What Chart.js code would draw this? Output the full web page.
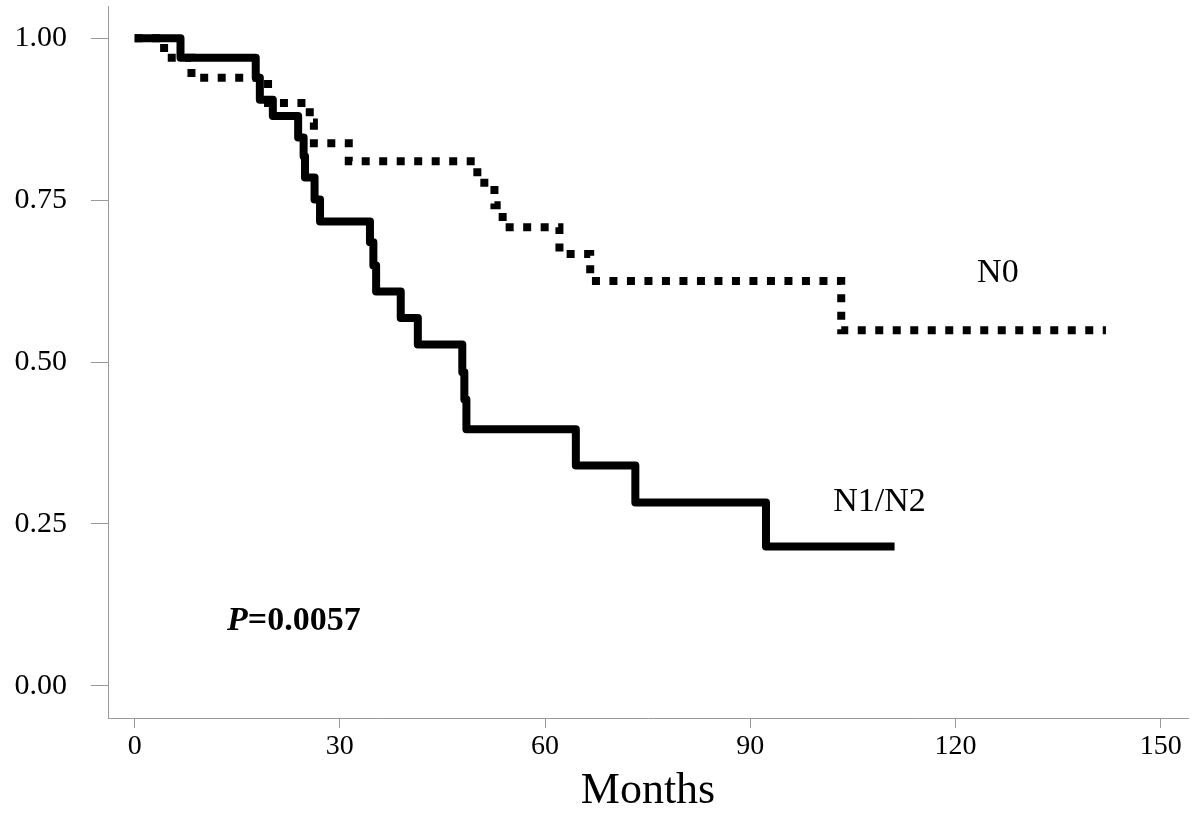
<!DOCTYPE html>
<html>
<head>
<meta charset="utf-8">
<script src="https://cdn.jsdelivr.net/npm/chart.js@4"></script>
<style>
html, body { margin: 0; padding: 0; background: #fff; }
</style>
</head>
<body>
<canvas id="kmChart" width="1200" height="820"></canvas>
<script>
// Kaplan-Meier steps (months, survival after the step)
const monthsN12 = [0, 6.7, 17.7, 18.3, 20.2, 23.9, 24.7, 24.9, 26.3, 27.1, 34.4, 34.9, 35.3, 38.9, 41.4, 47.9, 48.2, 48.5, 64.5, 73.2, 92.3, 111.1];
const survN12 = [1.0, 0.97, 0.939, 0.905, 0.88, 0.847, 0.818, 0.785, 0.751, 0.717, 0.685, 0.649, 0.609, 0.568, 0.527, 0.484, 0.442, 0.396, 0.34, 0.283, 0.215, 0.215];

const monthsN0 = [0, 4.3, 8.3, 19.5, 25.6, 26.2, 31.3, 50.1, 52.6, 53.8, 62.1, 66.6, 103.3, 142];
const survN0 = [1.0, 0.97, 0.939, 0.90, 0.87, 0.838, 0.81, 0.777, 0.742, 0.708, 0.667, 0.625, 0.549, 0.549];

const xTicks = [0, 30, 60, 90, 120, 150];
const yTicks = [0, 0.25, 0.5, 0.75, 1.0];

// curve labels, placed in data units
const curveLabels = ['N0', 'N1/N2'];
const labelMonths = [126.2, 108.9];
const labelSurv = [0.637, 0.283];
const pLabel = 'P';
const pValue = '=0.0057';
const pMonth = 13.5;
const pSurv = 0.10;

const serif = "'Liberation Serif', 'Times New Roman', serif";

function toPoints(xs, ys) {
    return xs.map((x, i) => ({ x: x, y: ys[i] }));
}

const textPlugin = {
    id: 'curveText',
    afterDatasetsDraw(chart) {
        const c = chart.ctx;
        const xs = chart.scales.x;
        const ys = chart.scales.y;
        c.save();
        c.fillStyle = '#000';
        c.textBaseline = 'middle';
        c.textAlign = 'center';
        c.font = '34px ' + serif;
        curveLabels.forEach((t, i) => {
            c.fillText(t, xs.getPixelForValue(labelMonths[i]), ys.getPixelForValue(labelSurv[i]));
        });
        // P value: italic P, then the number
        c.textAlign = 'left';
        let px = xs.getPixelForValue(pMonth);
        const py = ys.getPixelForValue(pSurv);
        c.font = 'italic bold 34px ' + serif;
        c.fillText(pLabel, px, py);
        px += c.measureText(pLabel).width;
        c.font = 'bold 34px ' + serif;
        c.fillText(pValue, px, py);
        c.restore();
    }
};

const ctx = document.getElementById('kmChart');

new Chart(ctx, {
    type: 'line',
    data: {
        datasets: [
            {
                label: 'N1/N2',
                data: toPoints(monthsN12, survN12),
                borderColor: '#000',
                borderWidth: 8,
                stepped: true,
                pointRadius: 0,
                borderJoinStyle: 'round',
                borderCapStyle: 'butt',
                fill: false
            },
            {
                label: 'N0',
                data: toPoints(monthsN0, survN0),
                borderColor: '#000',
                borderWidth: 8,
                borderDash: [8, 9.5],
                stepped: true,
                pointRadius: 0,
                borderCapStyle: 'butt',
                fill: false
            }
        ]
    },
    options: {
        responsive: false,
        animation: false,
        layout: { padding: { top: 6, right: 12, left: 0, bottom: 0 } },
        plugins: {
            legend: { display: false },
            tooltip: { enabled: false }
        },
        scales: {
            x: {
                type: 'linear',
                min: -3.9,
                max: 154,
                afterBuildTicks: s => { s.ticks = xTicks.map(v => ({ value: v })); },
                afterFit: s => {
                    s.height = 102;
                    s.paddingLeft = 0;
                    s.paddingRight = 0;
                },
                grid: { drawOnChartArea: false, drawTicks: true, tickLength: 10, color: '#999' },
                border: { color: '#999', width: 1 },
                ticks: { color: '#000', font: { family: serif, size: 28 }, padding: 2, maxRotation: 0 },
                title: {
                    display: true,
                    text: 'Months',
                    color: '#000',
                    font: { family: serif, size: 44 },
                    padding: { top: 0, bottom: 2 }
                }
            },
            y: {
                min: -0.05,
                max: 1.05,
                afterBuildTicks: s => { s.ticks = yTicks.map(v => ({ value: v })); },
                afterFit: s => {
                    s.width = 108;
                    s.paddingTop = 0;
                    s.paddingBottom = 0;
                },
                grid: { drawOnChartArea: false, drawTicks: true, tickLength: 17, color: '#999' },
                border: { color: '#999', width: 1 },
                ticks: {
                    color: '#000',
                    font: { family: serif, size: 30 },
                    padding: 24,
                    callback: v => v.toFixed(2)
                }
            }
        }
    },
    plugins: [textPlugin]
});
</script>
</body>
</html>
